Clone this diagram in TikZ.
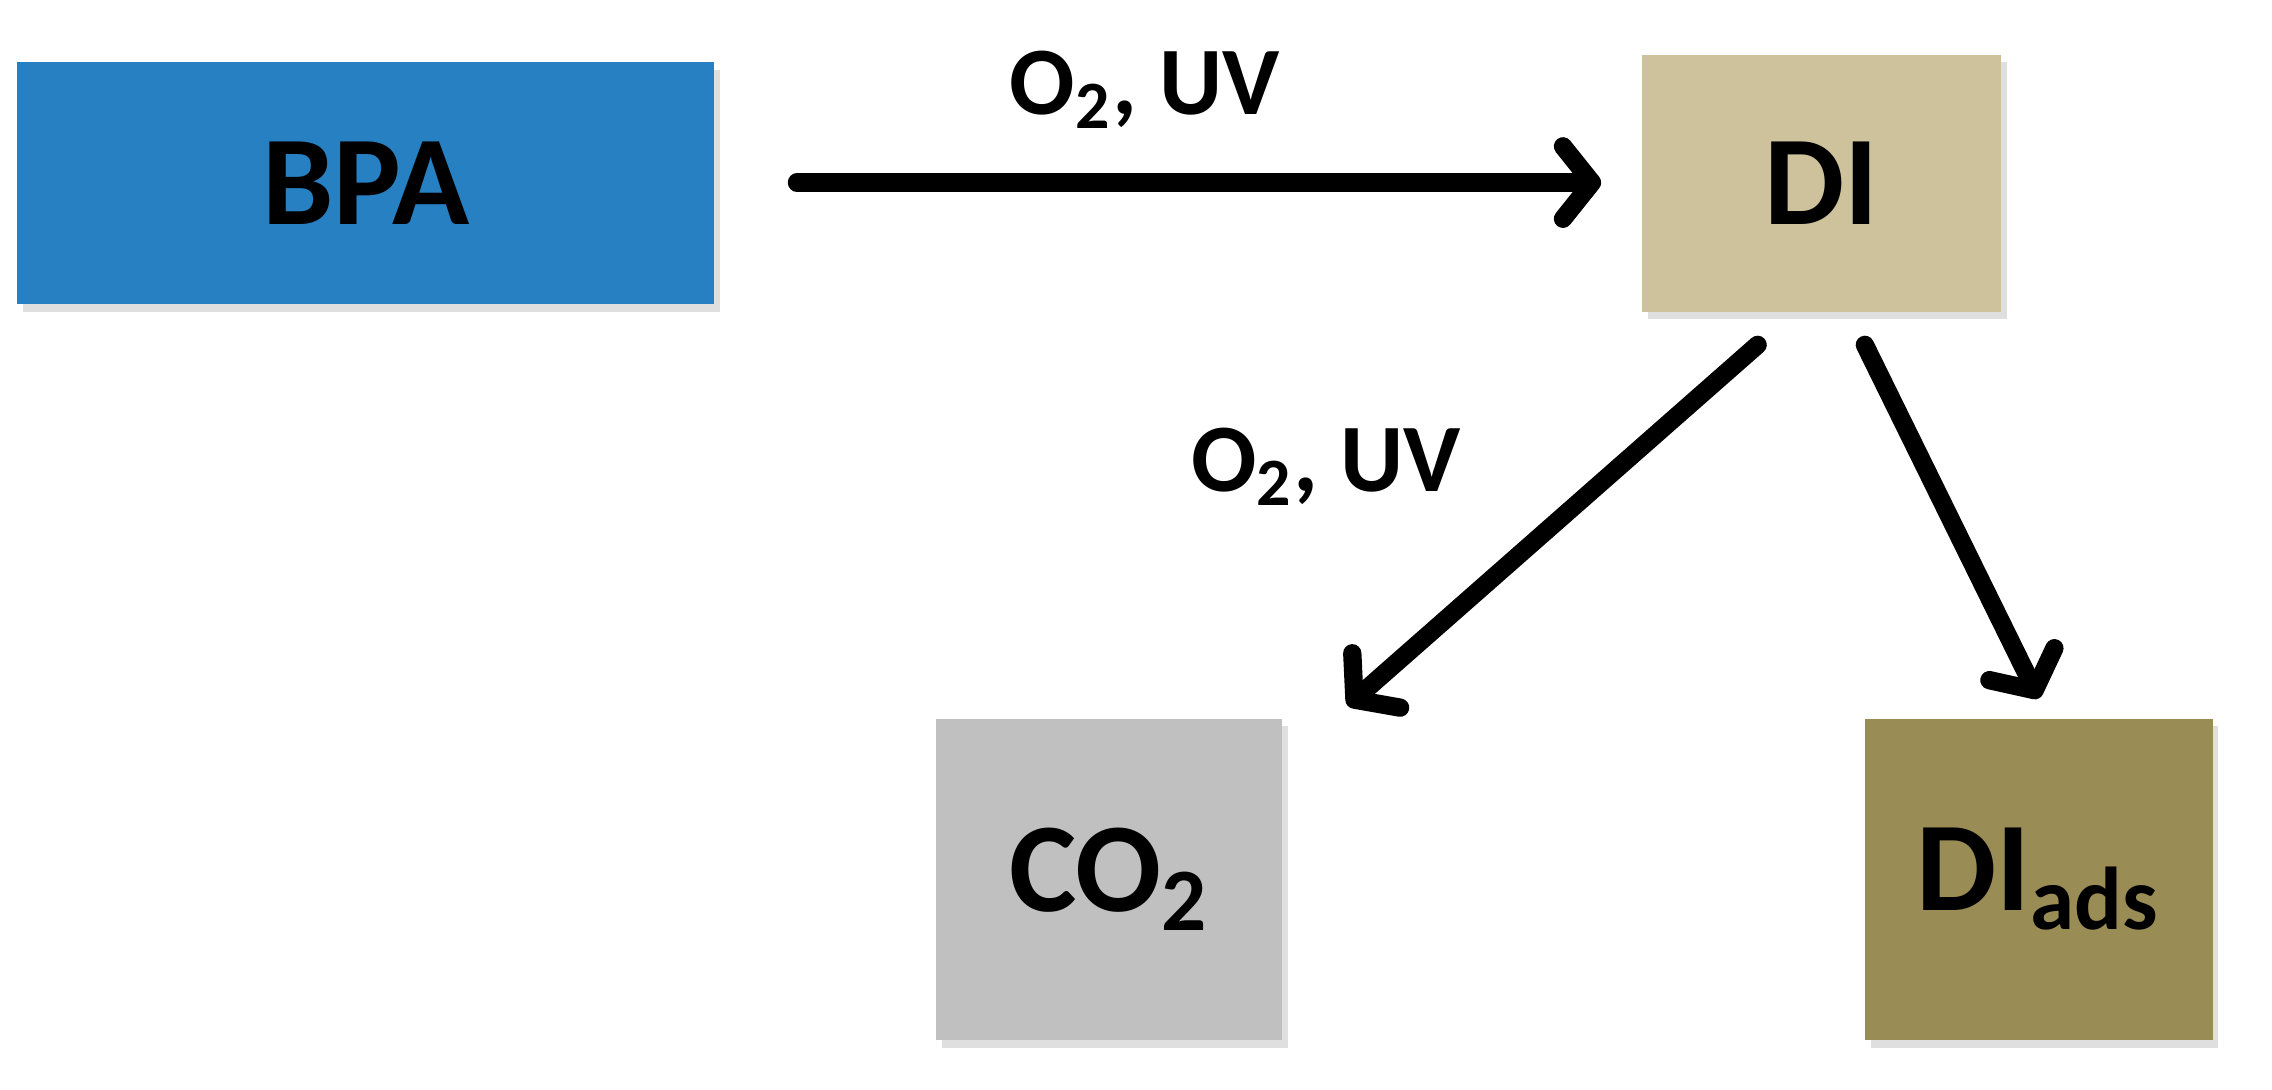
\documentclass[tikz,border=0pt]{standalone}
\usetikzlibrary{arrows.meta,shadows}
\usepackage{fontspec}
\setmainfont{Carlito}
\definecolor{bpa}{HTML}{2680C2}
\definecolor{di}{HTML}{CDC29B}
\definecolor{cotwo}{HTML}{C0C0C0}
\definecolor{diads}{HTML}{9A8C55}
\tikzset{
 box/.style={draw=none,minimum width=#1,inner sep=0pt,font=\bfseries\fontsize{25}{30}\selectfont,
   drop shadow={shadow xshift=0.04cm,shadow yshift=-0.05cm,opacity=0.25}},
 conn/.style={line width=3.6pt,line cap=round,line join=round,-{Straight Barb[length=0.2cm,width=0.5cm,round]}},
 lbl/.style={font=\bfseries\fontsize{19}{23}\selectfont}
}
\begin{document}
\begin{tikzpicture}
\useasboundingbox (0,0) rectangle (15.68,-7.516);
\node[box=4.81cm,minimum height=1.67cm,fill=bpa] (bpa) at (2.525,-1.265) {BPA};
\node[box=2.48cm,minimum height=1.77cm,fill=di] (di) at (12.57,-1.265) {DI};
\node[box=2.39cm,minimum height=2.22cm,fill=cotwo] (co) at (7.655,-6.07) {CO$_\mathbf{2}$};
\node[box=2.40cm,minimum height=2.22cm,fill=diads] (dia) at (14.07,-6.07) {DI\textsubscript{ads}};
\coordinate (a1) at (5.5,-1.26);
\coordinate (b1) at (11.05,-1.26);
\coordinate (a2) at (12.13,-2.38);
\coordinate (b2) at (9.3,-4.87);
\coordinate (a3) at (12.87,-2.38);
\coordinate (b3) at (14.07,-4.82);
\draw[conn] (a1) -- (b1);
\draw[conn] (a2) -- (b2);
\draw[conn] (a3) -- (b3);
\node[lbl] (l1) at (7.9,-0.62) {O\textsubscript{2}, UV};
\node[lbl] (l2) at (9.15,-3.22) {O\textsubscript{2}, UV};
\end{tikzpicture}
\end{document}
